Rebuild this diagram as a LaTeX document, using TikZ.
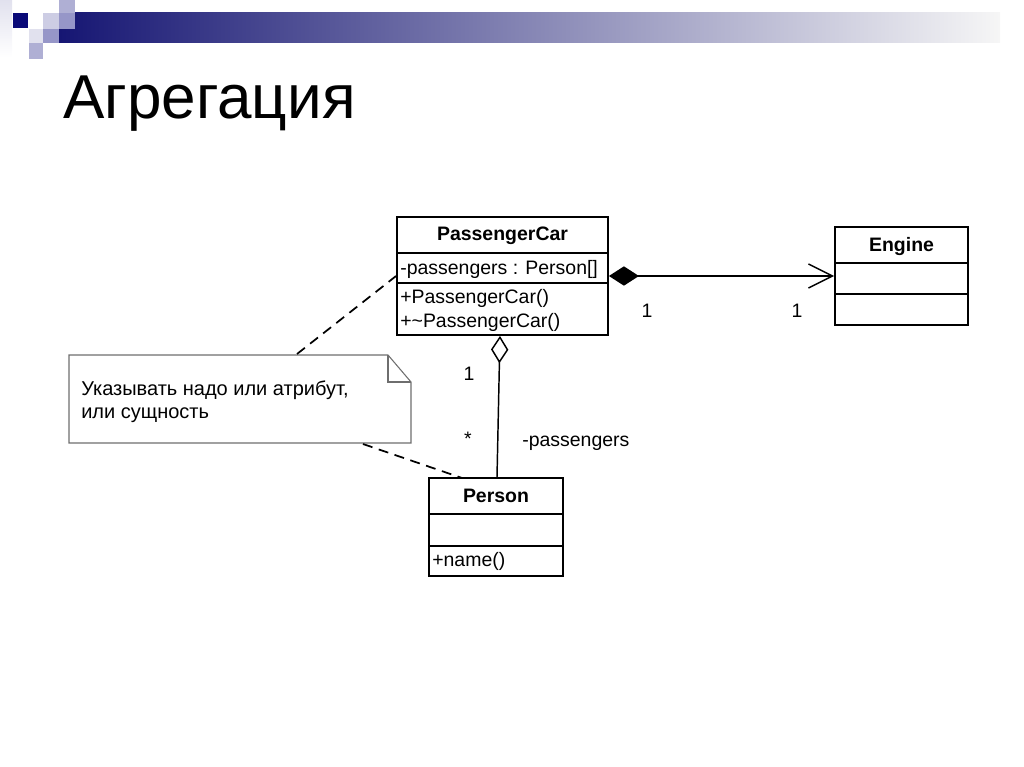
\documentclass[tikz,border=0pt]{standalone}
\usepackage{fontspec}
\setmainfont{Liberation Sans}
\usetikzlibrary{arrows.meta,fit}
\definecolor{navyA}{RGB}{22,22,115}
\definecolor{midG}{RGB}{178,178,192}
\definecolor{endG}{RGB}{246,246,246}
\definecolor{sqNavy}{RGB}{10,10,120}
\definecolor{sqLight}{RGB}{205,205,228}
\definecolor{sqMid}{RGB}{150,150,200}
\definecolor{sqLav}{RGB}{175,175,212}
\definecolor{sqPale}{RGB}{225,225,238}
\definecolor{noteLine}{RGB}{110,110,110}
\tikzset{
  umlbox/.style={draw, line width=1.4pt, inner sep=0pt},
  divider/.style={line width=1.4pt},
  umltext/.style={font=\fontsize{14.6pt}{17pt}\selectfont, inner sep=0pt},
  umlname/.style={umltext, font=\fontsize{14.6pt}{17pt}\selectfont\bfseries, anchor=base},
  umlmember/.style={umltext, anchor=base west},
  notetxt/.style={inner sep=0pt, anchor=base west, font=\fontsize{15pt}{18pt}\selectfont},
  lbl/.style={umltext, anchor=base},
  conn/.style={line width=1.1pt},
  notelink/.style={line width=1.3pt, dash pattern=on 7.5pt off 5pt},
  notebox/.style={draw=noteLine, line width=0.8pt, fill=white},
}
\begin{document}
\begin{tikzpicture}[x=0.75pt,y=-0.75pt]
\useasboundingbox (0,0) rectangle (1024,767);
% header decoration
\shade[top color=sqPale, bottom color=white] (0,0) rectangle (12,57);
\shade[left color=navyA, middle color=midG, right color=endG] (59,13) rectangle (1000,43);
\fill[sqNavy] (13,13) rectangle (28,28);
\fill[sqLight] (43,13) rectangle (59,29);
\fill[sqLav] (59,0) rectangle (75,13);
\fill[sqMid] (59,13) rectangle (75,29);
\fill[sqPale] (29,29) rectangle (43,43);
\fill[sqMid] (43,29) rectangle (59,43);
\fill[sqLav] (29,43) rectangle (43,59);
% title
\node[anchor=base west, inner sep=0pt, font=\fontsize{46.5pt}{56pt}\selectfont] (title) at (63,118) {Агрегация};
% PassengerCar
\node[umlbox, fit={(397,217) (608,335)}] (pc) {};
\draw[divider] (397,253) -- (608,253);
\draw[divider] (397,283) -- (608,283);
\node[umlname] (pcname) at (502.5,240) {PassengerCar};
\node[umlmember] (pcattr) at (400,274) {-passengers : Person[]};
\node[umlmember] (pcop1) at (400,303) {+PassengerCar()};
\node[umlmember] (pcop2) at (400,327) {+\char"007EPassengerCar()};
% Engine
\node[umlbox, fit={(835,227) (968,325)}] (engine) {};
\draw[divider] (835,263) -- (968,263);
\draw[divider] (835,294) -- (968,294);
\node[umlname] (enname) at (901.5,251) {Engine};
% Person
\node[umlbox, fit={(429,478) (563,576)}] (person) {};
\draw[divider] (429,514) -- (563,514);
\draw[divider] (429,546) -- (563,546);
\node[umlname] (pername) at (496,502) {Person};
\node[umlmember] (perop) at (432,566) {+name()};
% composition
\draw[conn, {Diamond[length=22.5pt,width=14.5pt]}-{Straight Barb[length=18pt,width=18pt]}] (pc.east) -- (engine.west);
\node[lbl] (m1) at (647,317) {1};
\node[lbl] (m2) at (797,317) {1};
% aggregation
\draw[conn, {Diamond[open,fill=white,length=20.5pt,width=13pt]}-] ([xshift=-1.9pt]pc.south) -- ([xshift=0.75pt]person.north);
\node[lbl] (a1) at (469,380) {1};
\node[lbl] (a2) at (468,445) {*};
\node[umlmember] (arole) at (522,446) {-passengers};
% note
\draw[notebox] (69,355) -- (388,355) -- (411,382) -- (411,443) -- (69,443) -- cycle;
\draw[draw=noteLine, line width=0.8pt] (388,355) -- (388,382) -- (411,382);
\node[fit={(69,355) (411,443)}, inner sep=0pt] (note) {};
\node[notetxt] (notetext1) at (81,395) {Указывать надо или атрибут,};
\node[notetxt] (notetext2) at (81,418) {или сущность};
\coordinate (n1) at (297,354);
\coordinate (n2) at (363,444);
\coordinate (p1) at (462,478);
\draw[notelink] (n1) -- (pc.west);
\draw[notelink] (n2) -- (p1);
\end{tikzpicture}
\end{document}
